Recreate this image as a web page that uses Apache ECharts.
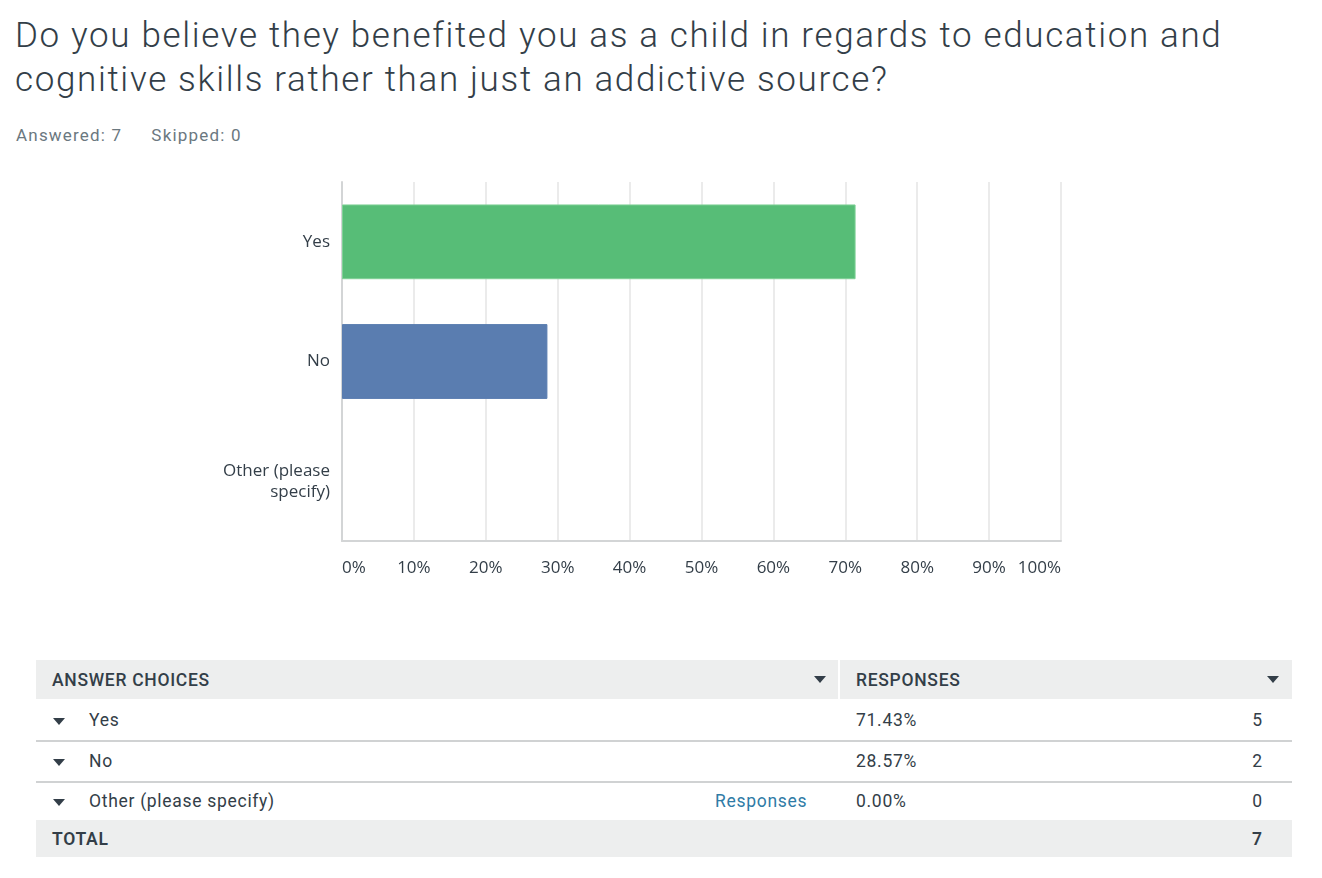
<!DOCTYPE html>
<html>
<head>
<meta charset="utf-8">
<script src="https://cdn.jsdelivr.net/npm/echarts@6/dist/echarts.min.js"></script>
<style>
  html, body { margin:0; padding:0; background:#fff; }
  body { width:1322px; height:878px; position:relative; overflow:hidden; font-family: Roboto, "Noto Sans", sans-serif; color:#333e48; }
  #title { position:absolute; left:15px; top:14px; font-size:35px; font-weight:300; line-height:44px; color:#333e48; width:1310px; letter-spacing:1.65px; white-space:nowrap; }
  #meta { position:absolute; left:16px; top:125px; font-size:17px; color:#6b787f; font-weight:400; letter-spacing:1.2px; }
  #meta span + span { margin-left:29px; }
  #chart { position:absolute; left:0; top:170px; width:1322px; height:430px; }
  .row { position:absolute; left:36px; width:1256px; }
  .cell { position:absolute; top:0; height:100%; display:flex; align-items:center; font-size:17.5px; letter-spacing:0.7px; white-space:nowrap; }
  .hdr { background:#edeeee; font-weight:500; text-transform:uppercase; }
  .tri { position:absolute; width:0; height:0; border-left:6px solid transparent; border-right:6px solid transparent; border-top:7px solid #333e48; }
  .sep { position:absolute; left:36px; width:1256px; height:2px; background:#d0d2d3; }
</style>
</head>
<body>
<div id="title"></div>
<div id="meta"></div>
<div id="chart"></div>
<div id="table"></div>
<script>
const titleLines = ["Do you believe they benefited you as a child in regards to education and", "cognitive skills rather than just an addictive source?"];
const answered = 7;
const skipped = 0;
const categories = ["Yes", "No", "Other (please\nspecify)"];
const tableLabels = ["Yes", "No", "Other (please specify)"];
const percents = [71.43, 28.57, 0.00];
const counts = [5, 2, 0];
const total = 7;
const barColors = ["#57bd77", "#5a7db0", "#a0a0a0"];
const xTicks = [0, 10, 20, 30, 40, 50, 60, 70, 80, 90, 100];

document.getElementById('title').innerHTML = titleLines.join('<br>');
document.getElementById('meta').innerHTML = '<span>Answered: ' + answered + '</span><span>Skipped: ' + skipped + '</span>';

const chart = echarts.init(document.getElementById('chart'), null, {renderer:'canvas'});
chart.setOption({
  animation: false,
  grid: { left: 342, right: 261, top: 12, bottom: 59, containLabel: false },
  xAxis: {
    type: 'value', min: xTicks[0], max: xTicks[xTicks.length-1], interval: xTicks[1]-xTicks[0],
    axisLine: { show: true, lineStyle: { color: '#d3d5d6', width: 2 } },
    axisTick: { show: false },
    splitLine: { show: true, lineStyle: { color: '#ebebeb', width: 2 } },
    axisLabel: { formatter: '{value}%', color: '#333e48', fontSize: 17, fontFamily: 'Open Sans', margin: 19,
                 alignMinLabel: 'left', alignMaxLabel: 'right' }
  },
  yAxis: {
    type: 'category', data: categories, inverse: true,
    axisLine: { show: true, lineStyle: { color: '#d3d5d6', width: 2 } },
    axisTick: { show: false },
    splitLine: { show: false },
    axisLabel: { color: '#333e48', fontSize: 17, fontFamily: 'Open Sans', margin: 12, lineHeight: 21, align: 'right' }
  },
  series: [{
    type: 'bar',
    data: percents.map((v, i) => ({ value: v, itemStyle: { color: barColors[i], borderColor: i===0 ? '#7fd096' : barColors[i], borderWidth: v > 0 ? 1 : 0, opacity: v > 0 ? 1 : 0 } })),
    barCategoryGap: '37.5%',
    silent: true
  }]
});

// Table
const t = document.getElementById('table');
let html = '';
html += '<div class="row" style="top:660px;height:39px;">'
  + '<div class="cell hdr" style="left:0;width:802px;padding-left:16px;box-sizing:border-box;">Answer Choices</div>'
  + '<div class="tri" style="left:778px;top:16px;"></div>'
  + '<div class="cell hdr" style="left:804px;width:452px;padding-left:16px;box-sizing:border-box;">Responses</div>'
  + '<div class="tri" style="left:1231px;top:16px;"></div>'
  + '</div>';
const rowTops = [700, 741, 781];
tableLabels.forEach((lab, i) => {
  const top = rowTops[i];
  html += '<div class="row" style="top:' + top + 'px;height:40px;">'
    + '<div class="tri" style="left:17px;top:18px;"></div>'
    + '<div class="cell" style="left:53px;">' + lab + '</div>'
    + (i === 2 ? '<div class="cell" style="left:679px;color:#2f7ba6;">Responses</div>' : '')
    + '<div class="cell" style="left:820px;">' + percents[i].toFixed(2) + '%</div>'
    + '<div class="cell" style="right:30px;justify-content:flex-end;letter-spacing:0;">' + counts[i] + '</div>'
    + '</div>';
  if (i < 2) html += '<div class="sep" style="top:' + (top + 40) + 'px;"></div>';
});
html += '<div class="row hdr" style="top:820px;height:37px;">'
  + '<div class="cell" style="left:16px;font-weight:600;">Total</div>'
  + '<div class="cell" style="right:30px;font-weight:600;letter-spacing:0;">' + total + '</div>'
  + '</div>';
t.innerHTML = html;
</script>
</body>
</html>
